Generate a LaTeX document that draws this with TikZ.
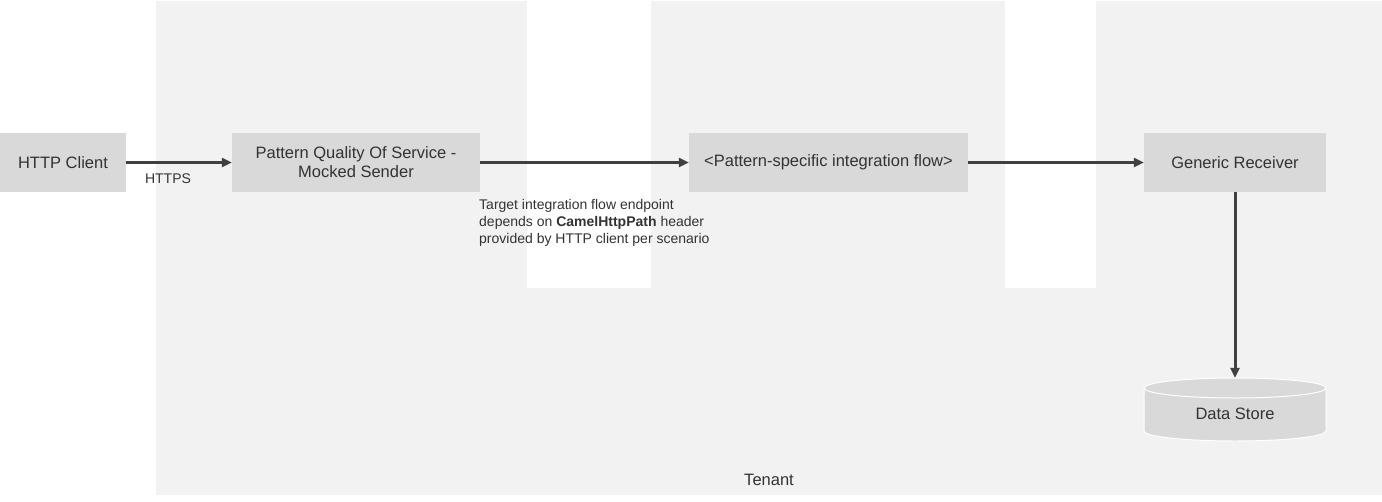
\documentclass[tikz,border=0pt]{standalone}
\usepackage{fontspec}
\setmainfont{Liberation Sans}
\usetikzlibrary{arrows.meta}
\definecolor{bgray}{HTML}{F2F2F2}
\definecolor{boxgray}{HTML}{D9D9D9}
\definecolor{ink}{HTML}{404040}
\definecolor{txt}{HTML}{333333}
\begin{document}
\begin{tikzpicture}[x=1pt,y=-1pt,
  box/.style={draw=none,fill=boxgray,minimum height=59pt,inner sep=0pt,align=center,text=txt,font=\fontsize{16.5}{19}\selectfont},
  conn/.style={draw=ink,line width=3pt,-{Triangle[length=10pt,width=9pt]}},
  note/.style={text=txt,font=\fontsize{14}{17}\selectfont,inner sep=0pt}]
\useasboundingbox (0,0) rectangle (1382,501);
% background tenant area
\fill[bgray] (156,1) rectangle (1382,495);
\fill[white] (527,0) rectangle (651,288);
\fill[white] (1005,0) rectangle (1096,288);
% nodes
\node[box,minimum width=126pt] (client) at (63,162.5) {HTTP Client};
\node[box,minimum width=248pt] (qos) at (356,162.5) {Pattern Quality Of Service -\\Mocked Sender};
\node[box,minimum width=279pt] (flow) at (828.5,162.5) {<Pattern-specific integration flow>};
\node[box,minimum width=182pt] (recv) at (1235,162.5) {Generic Receiver};
% data store cylinder
\node[minimum width=182pt,minimum height=63pt,inner sep=0pt] (ds) at (1235,409.5) {};
\fill[boxgray,draw=white,line width=1pt] (1144,388) -- (1144,431) arc[start angle=180,end angle=0,x radius=91,y radius=10] -- (1326,388) arc[start angle=0,end angle=-180,x radius=91,y radius=10] -- cycle;
\draw[white,line width=1pt] (1144,388) arc[start angle=180,end angle=0,x radius=91,y radius=10];
\node[text=txt,font=\fontsize{16.5}{19}\selectfont] at (1235,414) {Data Store};
% connectors
\draw[conn] (client.east) -- (qos.west);
\draw[conn] (qos.east) -- (flow.west);
\draw[conn] (flow.east) -- (recv.west);
\draw[conn] (recv.south) -- (ds.north);
% labels
\node[note] (https) at (168,179) {HTTPS};
\node[note,anchor=north west,align=left] (endpt) at (479,199) {Target integration flow endpoint\\depends on \textbf{CamelHttpPath} header\\provided by HTTP client per scenario};
\node[text=txt,font=\fontsize{16.5}{19}\selectfont] (tenant) at (769,480) {Tenant};
\end{tikzpicture}
\end{document}
